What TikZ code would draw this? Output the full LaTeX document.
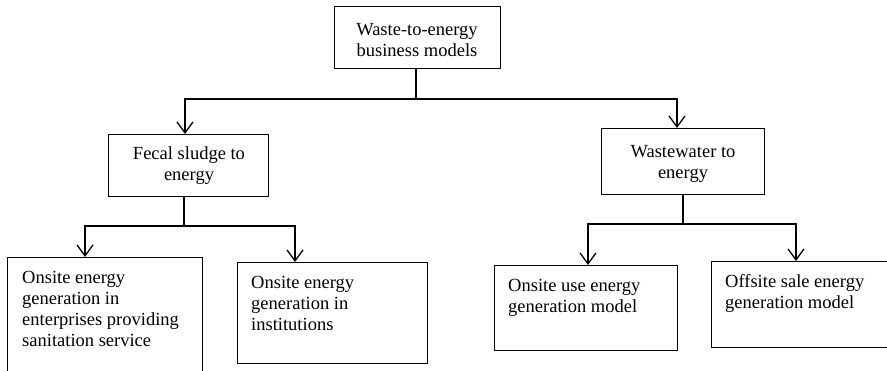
\documentclass[tikz,border=0pt]{standalone}
\usepackage{fontspec}
\setmainfont{Liberation Serif}
\usetikzlibrary{arrows.meta}

\tikzset{
  box/.style={draw=black, line width=1.2pt, inner sep=0pt, anchor=north west},
  txt/.style={inner sep=0pt, font=\fontsize{18.5}{21}\selectfont, text=black},
  link/.style={draw=black, line width=1.3pt},
  arr/.style={link, -{Straight Barb[length=11pt, width=16pt, line width=1.3pt]}}
}

% left-aligned text block, first baseline anchored
\newcommand{\leftblock}[2]{\parbox[t]{#1}{\raggedright #2}}
% centred text block, first baseline anchored
\newcommand{\midblock}[1]{\parbox[t]{220pt}{\centering #1}}

\begin{document}
\begin{tikzpicture}[x=1pt, y=-1pt]
  \useasboundingbox (0,0) rectangle (887,370);

  % boxes
  \node[box, minimum width=166pt, minimum height=62pt] (top) at (334,6) {};
  \node[box, minimum width=160pt, minimum height=62pt] (fecal) at (108,134) {};
  \node[box, minimum width=163pt, minimum height=66pt] (waste) at (601,128) {};
  \node[box, minimum width=195pt, minimum height=125pt] (a) at (7,257) {};
  \node[box, minimum width=190pt, minimum height=101pt] (b) at (237,262) {};
  \node[box, minimum width=183pt, minimum height=85pt] (c) at (494,265) {};
  \node[box, minimum width=182pt, minimum height=86pt] (d) at (711,261) {};

  % labels
  \node[txt, anchor=base] (ttop) at (417,35) {\midblock{Waste-to-energy\\business models}};
  \node[txt, anchor=base] (tfecal) at (189,159) {\midblock{Fecal sludge to\\energy}};
  \node[txt, anchor=base] (twaste) at (683,157) {\midblock{Wastewater to\\energy}};
  \node[txt, anchor=base west] (ta) at ([shift={(15pt,-26pt)}]a.north west)
    {\leftblock{185pt}{Onsite energy\\generation in\\enterprises providing\\sanitation service}};
  \node[txt, anchor=base west] (tb) at ([shift={(14pt,-26pt)}]b.north west)
    {\leftblock{170pt}{Onsite energy\\generation in\\institutions}};
  \node[txt, anchor=base west] (tc) at ([shift={(14pt,-26pt)}]c.north west)
    {\leftblock{170pt}{Onsite use energy\\generation model}};
  \node[txt, anchor=base west] (td) at ([shift={(14pt,-26pt)}]d.north west)
    {\leftblock{170pt}{Offsite sale energy\\generation model}};

  % junction points of the branching lines
  \coordinate (j0) at (416,99);
  \coordinate (j1) at (184,226);
  \coordinate (j2) at (683,224);

  % first level
  \draw[link] (top.south -| j0) -- (j0);
  \draw[arr] (j0) -| ([xshift=77pt]fecal.north west);
  \draw[arr] (j0) -| ([xshift=76pt]waste.north west);

  % fecal sludge branch
  \draw[link] (fecal.south -| j1) -- (j1);
  \draw[arr] (j1) -| ([xshift=78pt]a.north west);
  \draw[arr] (j1) -| ([xshift=58pt]b.north west);

  % wastewater branch
  \draw[link] (waste.south -| j2) -- (j2);
  \draw[arr] (j2) -| ([xshift=94pt]c.north west);
  \draw[arr] (j2) -| ([xshift=85pt]d.north west);
\end{tikzpicture}
\end{document}
